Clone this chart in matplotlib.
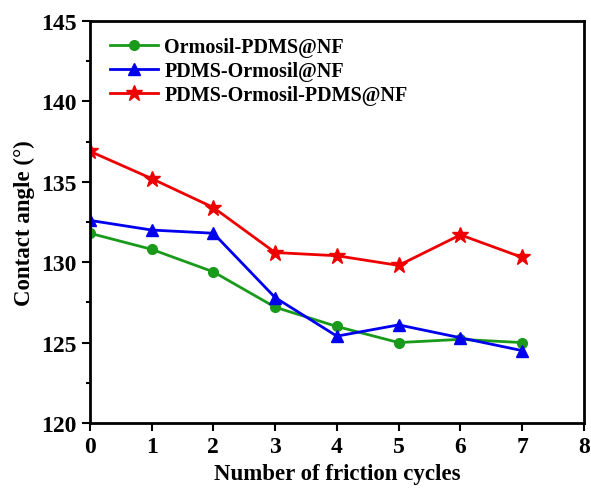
import matplotlib
matplotlib.use('Agg')
import matplotlib.pyplot as plt
from matplotlib.ticker import MultipleLocator

plt.rcParams['font.family'] = ['Liberation Serif', 'DejaVu Serif']
plt.rcParams['font.weight'] = 'bold'

cycles = [0, 1, 2, 3, 4, 5, 6, 7]
ormosil_pdms = [131.8, 130.8, 129.4, 127.2, 126.0, 125.0, 125.2, 125.0]
pdms_ormosil = [132.6, 132.0, 131.8, 127.8, 125.4, 126.1, 125.3, 124.5]
pdms_ormosil_pdms = [136.9, 135.2, 133.4, 130.6, 130.4, 129.8, 131.7, 130.3]

fig = plt.figure(figsize=(5.91, 4.89), dpi=100)
ax = fig.add_axes([0.152, 0.133, 0.836, 0.822])

ax.plot(cycles, ormosil_pdms, color='#1a9a1a', marker='o', markersize=7, lw=2,
        label='Ormosil-PDMS@NF')
ax.plot(cycles, pdms_ormosil, color='#0000ee', marker='^', markersize=8, lw=2,
        label='PDMS-Ormosil@NF')
ax.plot(cycles, pdms_ormosil_pdms, color='#ee0000', marker='*', markersize=12, lw=2,
        label='PDMS-Ormosil-PDMS@NF')

ax.set_xlim(0, 8)
ax.set_ylim(120, 145)
ax.xaxis.set_major_locator(MultipleLocator(1))
ax.yaxis.set_major_locator(MultipleLocator(5))
ax.yaxis.set_minor_locator(MultipleLocator(2.5))
ax.tick_params(which='both', direction='out', width=1.5, labelsize=17)
ax.tick_params(which='major', length=6)
ax.tick_params(which='minor', length=3)
for s in ax.spines.values():
    s.set_linewidth(2)

ax.set_xlabel('Number of friction cycles', fontsize=16.5, fontweight='bold')
ax.set_ylabel('Contact angle (°)', fontsize=16.5, fontweight='bold')

ax.legend(loc='upper left', frameon=False, fontsize=14.5, handlelength=2.4,
          borderaxespad=0.6, labelspacing=0.2, handletextpad=0.3,
          bbox_to_anchor=(0.0, 1.01))

fig.savefig('out.png', dpi=100)
